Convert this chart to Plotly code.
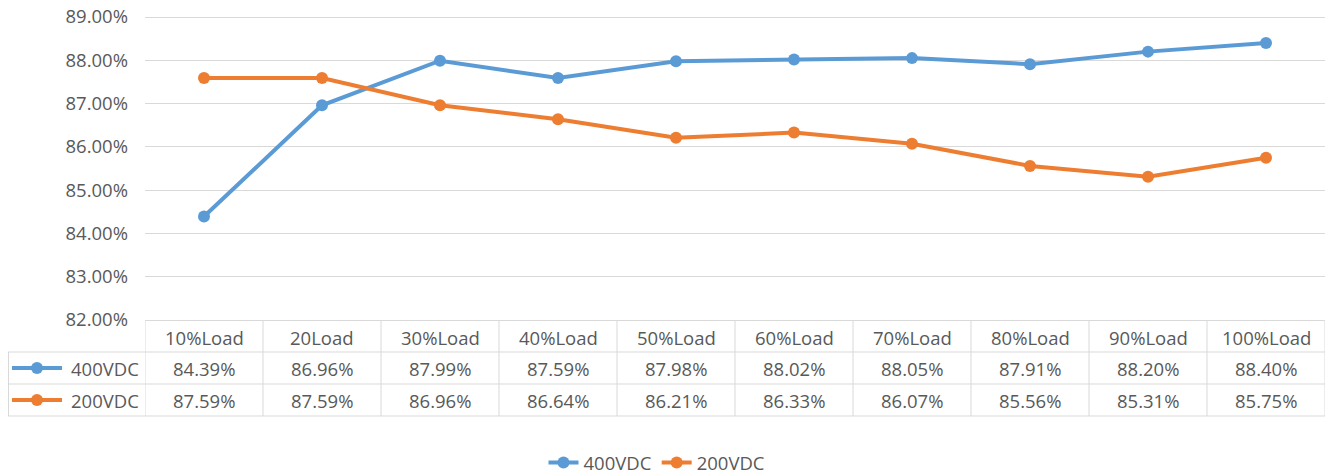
import plotly.graph_objects as go

categories = ["10%Load", "20Load", "30%Load", "40%Load", "50%Load",
              "60%Load", "70%Load", "80%Load", "90%Load", "100%Load"]
series_names = ["400VDC", "200VDC"]
vdc400 = [84.39, 86.96, 87.99, 87.59, 87.98, 88.02, 88.05, 87.91, 88.20, 88.40]
vdc200 = [87.59, 87.59, 86.96, 86.64, 86.21, 86.33, 86.07, 85.56, 85.31, 85.75]
y_ticks = [82, 83, 84, 85, 86, 87, 88, 89]

colors = ["#5B9BD5", "#ED7D31"]
OFF = 8  # page body margin of the browser
W, H = 1333 - OFF, 475 - OFF
FONT = "Open Sans, DejaVu Sans, sans-serif"
FS = 18.5
TXT = "#595959"
GRID = "#D9D9D9"

def px(p):
    return (p - OFF) / W

def py(p):
    return (H - (p - OFF)) / H

fig = go.Figure()
for name, vals, c in zip(series_names, [vdc400, vdc200], colors):
    fig.add_trace(go.Scatter(
        x=categories, y=[v / 100 for v in vals], name=name, mode="lines+markers",
        line=dict(color=c, width=4), marker=dict(color=c, size=12),
        cliponaxis=False,
    ))

x0_px, x1_px = 145, 1325
top_px, bot_px = 17, 320          # pixel rows of the first / last gridline
pad_px = 3                         # keep edge gridlines inside the plot area
ylo, yhi = y_ticks[0] / 100, y_ticks[-1] / 100
upp = (yhi - ylo) / (bot_px - top_px)
fig.update_layout(
    width=W, height=H, autosize=False,
    margin=dict(l=0, r=0, t=0, b=0, pad=0, autoexpand=False),
    paper_bgcolor="white", plot_bgcolor="white",
    font=dict(family=FONT, size=FS, color=TXT),
    xaxis=dict(domain=[px(x0_px), px(x1_px)], range=[-0.5, 9.5],
               showticklabels=False, showgrid=False, zeroline=False,
               showline=False, fixedrange=True, automargin=False),
    yaxis=dict(domain=[py(bot_px + pad_px), py(top_px - pad_px)],
               range=[ylo - pad_px * upp, yhi + pad_px * upp],
               tickvals=[t / 100 for t in y_ticks], tickformat=".2%",
               showgrid=True, gridcolor=GRID, gridwidth=1, zeroline=False,
               showline=False, ticks="", ticklabelstandoff=16, automargin=False,
               ticklabeloverflow="allow",
               tickfont=dict(size=FS, color=TXT)),
    legend=dict(orientation="h", x=px(657), xanchor="center", y=py(463),
                yanchor="middle", font=dict(size=FS, color=TXT),
                tracegroupgap=0),
    showlegend=True,
)

# data table below the plot
hdr_top, r1, r2, r3 = 320, 352, 384, 416
shapes = []
n = len(categories)
for i in range(n + 1):
    shapes.append(dict(type="line", xref="x", yref="paper", x0=i - 0.5, x1=i - 0.5,
                       y0=py(hdr_top), y1=py(r3), line=dict(color=GRID, width=1)))
for yy in [r1, r2, r3]:
    shapes.append(dict(type="line", xref="paper", yref="paper", x0=px(8), x1=px(x1_px),
                       y0=py(yy), y1=py(yy), line=dict(color=GRID, width=1)))
shapes.append(dict(type="line", xref="paper", yref="paper", x0=px(8.5), x1=px(8.5),
                   y0=py(r1), y1=py(r3), line=dict(color=GRID, width=1)))

annotations = []
for c in categories:
    annotations.append(dict(x=c, xref="x", y=py((hdr_top + r1) / 2 + 1), yref="paper",
                            xanchor="center", yanchor="middle",
                            text=c, showarrow=False, font=dict(size=FS, color=TXT)))
for ri, (name, vals, col) in enumerate(zip(series_names, [vdc400, vdc200], colors)):
    yc = (r1 + r2) / 2 if ri == 0 else (r2 + r3) / 2
    for c, v in zip(categories, vals):
        annotations.append(dict(x=c, xref="x", y=py(yc), yref="paper",
                                xanchor="center", yanchor="middle",
                                text=f"{v:.2f}%", showarrow=False,
                                font=dict(size=FS, color=TXT)))
    annotations.append(dict(x=px(141), xref="paper", xanchor="right", y=py(yc), yref="paper",
                            yanchor="middle",
                            text=name, showarrow=False, font=dict(size=FS, color=TXT)))
    shapes.append(dict(type="line", xref="paper", yref="paper", x0=px(12), x1=px(62),
                       y0=py(yc), y1=py(yc), line=dict(color=col, width=4)))
    shapes.append(dict(type="circle", xref="paper", yref="paper",
                       x0=px(37 - 6), x1=px(37 + 6),
                       y0=py(yc + 6), y1=py(yc - 6),
                       fillcolor=col, line=dict(color=col, width=0)))

fig.update_layout(shapes=shapes, annotations=annotations)
fig.write_html("out.html")
